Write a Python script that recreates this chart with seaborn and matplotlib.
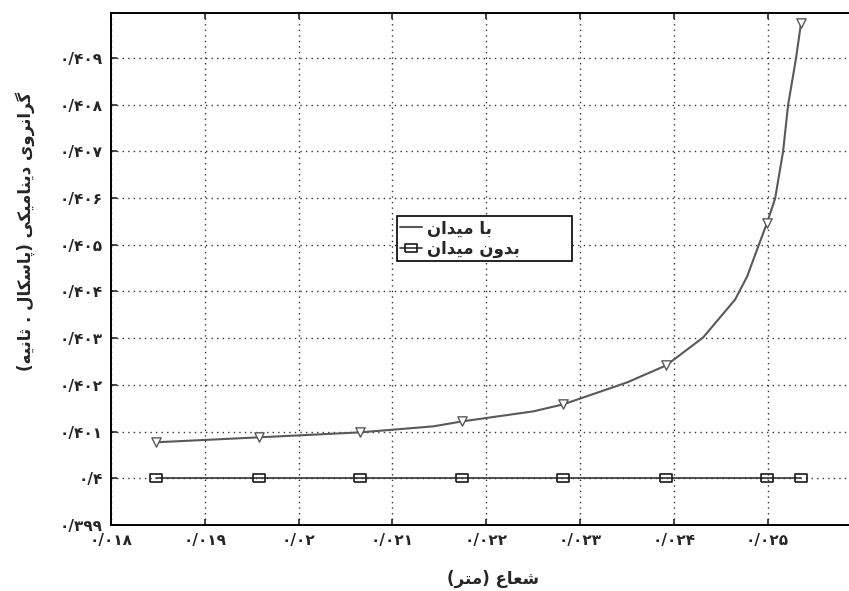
import numpy as np
import pandas as pd
import seaborn as sns
import matplotlib.pyplot as plt

# curve "with field"
x_field = [0.018476, 0.019573, 0.020659, 0.021437, 0.021745, 0.022501, 0.022821,
           0.023502, 0.023918, 0.024312, 0.024653, 0.024781, 0.024887, 0.024994,
           0.025079, 0.025164, 0.025218, 0.025303, 0.025356]
y_field = [0.400770, 0.400876, 0.400983, 0.401112, 0.401218, 0.401432, 0.401582,
           0.402052, 0.402416, 0.403014, 0.403826, 0.404318, 0.404895, 0.405472,
           0.405985, 0.406990, 0.407995, 0.408999, 0.409748]

# marker positions
x_marks = [0.018476, 0.019573, 0.020659, 0.021745, 0.022821, 0.023918, 0.024994, 0.025356]
y_field_marks = [0.400770, 0.400876, 0.400983, 0.401218, 0.401582, 0.402416, 0.405472, 0.409748]
y_nofield = [0.4, 0.4, 0.4, 0.4, 0.4, 0.4, 0.4, 0.4]

x_ticks = [0.018, 0.019, 0.020, 0.021, 0.022, 0.023, 0.024, 0.025]
x_ticklabels = ['۰/۰۱۸', '۰/۰۱۹', '۰/۰۲', '۰/۰۲۱', '۰/۰۲۲', '۰/۰۲۳', '۰/۰۲۴', '۰/۰۲۵']
y_ticks = [0.399, 0.400, 0.401, 0.402, 0.403, 0.404, 0.405, 0.406, 0.407, 0.408, 0.409]
y_ticklabels = ['۰/۳۹۹', '۰/۴', '۰/۴۰۱', '۰/۴۰۲', '۰/۴۰۳', '۰/۴۰۴',
                '۰/۴۰۵', '۰/۴۰۶', '۰/۴۰۷', '۰/۴۰۸', '۰/۴۰۹']

label_field = 'با میدان'
label_nofield = 'بدون میدان'
xlabel = 'شعاع (متر)'
ylabel = 'گرانروی دینامیکی (پاسکال . ثانیه)'

# matplotlib has no arabic shaping, so do it by hand: (isolated, final, initial, medial)
FORMS = {
    'ا': ('\uFE8D', '\uFE8E', None, None),
    'د': ('\uFEA9', '\uFEAA', None, None),
    'ر': ('\uFEAD', '\uFEAE', None, None),
    'و': ('\uFEED', '\uFEEE', None, None),
    'ب': ('\uFE8F', '\uFE90', '\uFE91', '\uFE92'),
    'پ': ('\uFB56', '\uFB57', '\uFB58', '\uFB59'),
    'ت': ('\uFE95', '\uFE96', '\uFE97', '\uFE98'),
    'ث': ('\uFE99', '\uFE9A', '\uFE9B', '\uFE9C'),
    'س': ('\uFEB1', '\uFEB2', '\uFEB3', '\uFEB4'),
    'ش': ('\uFEB5', '\uFEB6', '\uFEB7', '\uFEB8'),
    'ع': ('\uFEC9', '\uFECA', '\uFECB', '\uFECC'),
    'ل': ('\uFEDD', '\uFEDE', '\uFEDF', '\uFEE0'),
    'م': ('\uFEE1', '\uFEE2', '\uFEE3', '\uFEE4'),
    'ن': ('\uFEE5', '\uFEE6', '\uFEE7', '\uFEE8'),
    'ه': ('\uFEE9', '\uFEEA', '\uFEEB', '\uFEEC'),
    'ی': ('\uFBFC', '\uFBFD', '\uFBFE', '\uFBFF'),
    'ک': ('\uFB8E', '\uFB8F', '\uFB90', '\uFB91'),
    'گ': ('\uFB92', '\uFB93', '\uFB94', '\uFB95'),
}


def fa(s):
    out = []
    for i, c in enumerate(s):
        if c not in FORMS:
            out.append(c)
            continue
        prev = s[i - 1] if i > 0 else ''
        nxt = s[i + 1] if i + 1 < len(s) else ''
        jp = prev in FORMS and FORMS[prev][2] is not None
        jn = nxt in FORMS and FORMS[c][2] is not None
        iso, fin, ini, med = FORMS[c]
        out.append(med if (jp and jn) else fin if jp else ini if jn else iso)
    vis = ''.join(out[::-1])
    return vis.translate(str.maketrans('()', ')('))


sns.set_style('white')
plt.rcParams['font.family'] = ['DejaVu Sans']
plt.rcParams['font.weight'] = 'bold'

fig = plt.figure(figsize=(8.49, 5.91), dpi=100)
ax = fig.add_axes([0.1307, 0.1117, 0.8693, 0.8663])

sns.lineplot(x=x_field, y=y_field, color='0.35', linewidth=1.5, label=fa(label_field), ax=ax)
sns.scatterplot(x=x_marks, y=y_field_marks, marker='v', s=45, facecolor='white',
                edgecolor='0.35', linewidth=1.0, ax=ax, zorder=3)
rect = [(-1, -0.6), (1, -0.6), (1, 0.6), (-1, 0.6), (-1, -0.6)]
sns.lineplot(x=x_marks, y=y_nofield, color='0.2', linewidth=1.2, marker=rect,
             markersize=9, markerfacecolor='none', markeredgecolor='0.1',
             markeredgewidth=1.2, label=fa(label_nofield), ax=ax)

ax.set_xlim(0.018, 0.025867)
ax.set_ylim(0.399, 0.40996)
ax.set_xticks(x_ticks)
ax.set_xticklabels(x_ticklabels, fontsize=11, fontweight='bold')
ax.set_yticks(y_ticks)
ax.set_yticklabels(y_ticklabels, fontsize=11, fontweight='bold')
ax.tick_params(direction='in', length=4, width=1.2, top=True, bottom=True, left=True, pad=6)
ax.grid(True, linestyle=(0, (1, 3)), color='0.2', linewidth=1.0)

for side in ['left', 'bottom', 'top']:
    ax.spines[side].set_color('black')
    ax.spines[side].set_linewidth(1.4)
ax.spines['right'].set_visible(False)

ax.set_xlabel(fa(xlabel), fontsize=12, fontweight='bold')
ax.set_ylabel(fa(ylabel), fontsize=12, fontweight='bold')
ax.xaxis.set_label_coords(0.5176, -0.088)
ax.yaxis.set_label_coords(-0.103, 0.574)

leg = ax.legend(loc='upper left', bbox_to_anchor=(0.3875, 0.5156, 0.2375, 0.088),
                mode='expand', borderaxespad=0, handlelength=1.3, handletextpad=0.3,
                borderpad=0.2, labelspacing=0.15, fancybox=False, framealpha=1,
                prop={'weight': 'bold', 'size': 12})
leg.get_frame().set_edgecolor('black')
leg.get_frame().set_linewidth(1.2)

fig.savefig('out.png', dpi=100)
